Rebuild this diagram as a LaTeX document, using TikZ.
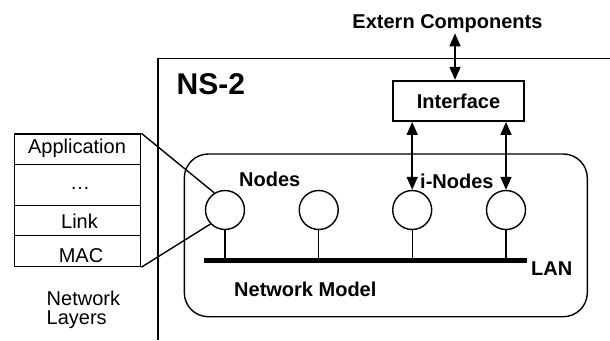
\documentclass[tikz,border=0pt]{standalone}
\usepackage{fontspec}
\setmainfont{Liberation Sans}
\usetikzlibrary{arrows.meta}
\begin{document}
\begin{tikzpicture}[x=1pt,y=-1pt, line width=1.4pt,
  lbl/.style={font=\bfseries\fontsize{20}{22}\selectfont, inner sep=0pt},
  txt/.style={font=\fontsize{20}{19.5}\selectfont, inner sep=0pt},
  nd/.style={circle, draw, minimum size=39pt, inner sep=0pt},
  biarrow/.style={{Triangle[length=13pt,width=11pt]}-{Triangle[length=13pt,width=11pt]}, line width=1.6pt},
]
\useasboundingbox (0,0) rectangle (610,340);
% NS-2 frame
\coordinate (nsB) at (158,340);
\coordinate (nsC) at (158,58.3);
\coordinate (nsR) at (610,58.3);
\draw[line width=1.6pt] (nsB) -- (nsC) -- (nsR);
\node[lbl, anchor=base west, font=\bfseries\fontsize{30}{32}\selectfont] (ns) at (176,94.3) {NS-2};
% Extern components and interface
\node[lbl, anchor=base] (ext) at (447.5,28.3) {Extern Components};
\node[draw, lbl, minimum width=131.6pt, minimum height=40.3pt, line width=1.8pt] (iface) at (458.5,100.9) {Interface};
\coordinate (extpt) at (455,33.3);
\draw[biarrow] (extpt) -- (extpt |- iface.north);
% network model
\node[draw, rounded corners=24pt, minimum width=403pt, minimum height=162.7pt, inner sep=0pt] (model) at (385.8,235.35) {};
\node[nd] (c1) at (225,210) {};
\node[nd] (c2) at (318.7,210) {};
\node[nd] (c3) at (412.2,210) {};
\node[nd] (c4) at (506,210) {};
\coordinate (lanL) at (204,260.5);
\coordinate (lanR) at (526.7,260.5);
\draw[line width=4.5pt] (lanL) -- (lanR);
\foreach \c in {c1,c2,c3,c4} \draw (\c.south) -- (\c.south |- lanL);
\draw[biarrow] (c3.north |- iface.south) -- (c3.north);
\draw[biarrow] (c4.north |- iface.south) -- (c4.north);
\node[lbl, anchor=base west] (nodes) at (238.5,186.7) {Nodes};
\node[lbl, anchor=base west] (inodes) at (419.5,188) {i-Nodes};
\node[lbl, anchor=base west] (lan) at (530.5,275) {LAN};
\node[lbl, anchor=base west] (nm) at (233.5,296.7) {Network Model};
% layer stack
\node[draw, minimum width=126.4pt, minimum height=132.5pt, inner sep=0pt] (stack) at (77.5,200.25) {};
\draw (stack.west |- 0,164.5) -- (stack.east |- 0,164.5);
\draw (stack.west |- 0,205.3) -- (stack.east |- 0,205.3);
\draw (stack.west |- 0,235.7) -- (stack.east |- 0,235.7);
\node[txt, anchor=base] (app) at (77,153.3) {Application};
\node[txt, anchor=base] (dots) at (80,189) {…};
\node[txt, anchor=base] (link) at (79.5,228) {Link};
\node[txt, anchor=base] (mac) at (81,262.7) {MAC};
\node[txt, align=left, anchor=north west] (nl) at (46,290) {Network\\Layers};
\draw (stack.north east) -- (c1.122);
\draw (stack.south east) -- (c1.224);
\end{tikzpicture}
\end{document}
